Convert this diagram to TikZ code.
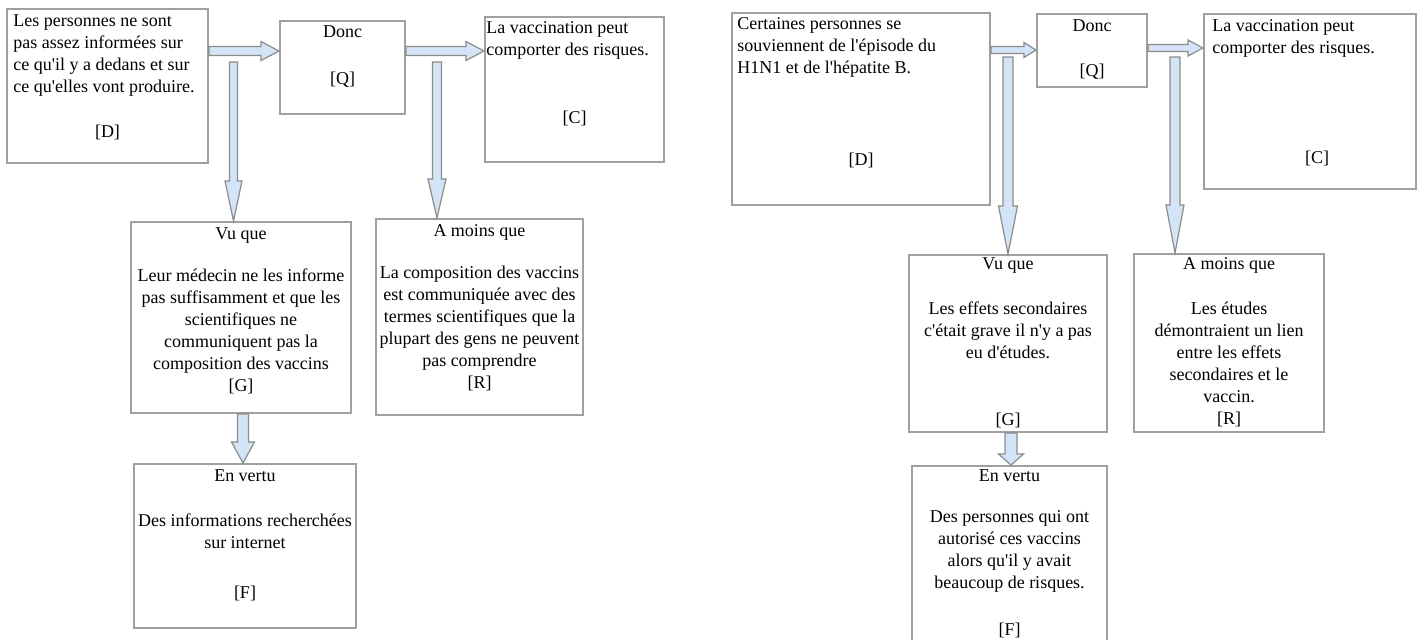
\documentclass[tikz,border=0pt]{standalone}
\usepackage{fontspec}
\setmainfont{Liberation Serif}
\usetikzlibrary{positioning, fit, calc}

\definecolor{boxline}{RGB}{160,160,160}
\definecolor{arrowfill}{RGB}{210,228,245}
\definecolor{arrowline}{RGB}{140,140,140}

\newcommand{\apos}{\textquotesingle}
% block arrows: start, end, shaft half width, head half width, head length
\newcommand{\harr}[5]{%
	\draw[blockarrow] ($#1+(0,#3)$) -- ($#2+(-#5,#3)$) -- ($#2+(-#5,#4)$) -- #2 -- ($#2+(-#5,-#4)$) -- ($#2+(-#5,-#3)$) -- ($#1+(0,-#3)$) -- cycle;}
\newcommand{\varr}[5]{%
	\draw[blockarrow] ($#1+(-#3,0)$) -- ($#2+(-#3,-#5)$) -- ($#2+(-#4,-#5)$) -- #2 -- ($#2+(#4,-#5)$) -- ($#2+(#3,-#5)$) -- ($#1+(#3,0)$) -- cycle;}

\begin{document}
\begin{tikzpicture}[x=0.5pt, y=-0.5pt,
		box/.style={draw=boxline, line width=1pt, inner sep=0pt},
		txt/.style={inner sep=0pt, font=\fontsize{9}{11}\selectfont},
		blockarrow/.style={draw=arrowline, fill=arrowfill, line width=0.6pt, line join=miter}]
	\useasboundingbox (0,0) rectangle (1419,639);
	\clip (0,0) rectangle (1419,639);

	% first diagram
	\node[box, fit={(7,9) (208,163)}] (dL) {};
	\node[box, fit={(280,21) (405,114)}] (qL) {};
	\node[box, fit={(485,17) (664,162)}] (cL) {};
	\node[box, fit={(131,222) (351,413)}] (gL) {};
	\node[box, fit={(376,219) (583,415)}] (rL) {};
	\node[box, fit={(134,464) (356,628)}] (fL) {};

	\node[txt, align=left, below right=3pt and 3.5pt of dL.north west] (dLtxt) {Les personnes ne sont\\pas assez informées sur\\ce qu\apos il y a dedans et sur\\ce qu\apos elles vont produire.};
	\node[txt, anchor=base] (dLtag) at (dL.north |- 0,137) {[D]};
	\node[txt, align=center, below=2.5pt of qL.north] (qLtxt) {Donc\\[12.5pt]{[Q]}};
	\node[txt, align=left, below right=2.5pt and 1pt of cL.north west] (cLtxt) {La vaccination peut\\comporter des risques.};
	\node[txt, anchor=base] (cLtag) at (cL.north |- 0,123) {[C]};
	\node[txt, align=center, below=3pt of gL.north] (gLtxt) {Vu que\\[10pt]Leur médecin ne les informe\\pas suffisamment et que les\\scientifiques ne\\communiquent pas la\\composition des vaccins\\{[G]}};
	\node[txt, align=center, below=3pt of rL.north] (rLtxt) {A moins que\\[10pt]La composition des vaccins\\est communiquée avec des\\termes scientifiques que la\\plupart des gens ne peuvent\\pas comprendre\\{[R]}};
	\node[txt, align=center, below=3pt of fL.north] (fLtxt) {En vertu\\[11.5pt]Des informations recherchées\\sur internet\\[14pt]{[F]}};

	\coordinate (brL1) at (233.5,62);
	\coordinate (brL2) at (437,62);
	\harr{(dL.east|-0,51)}{(qL.west|-0,51)}{4.5}{9.5}{18}
	\harr{(qL.east|-0,51)}{(cL.west|-0,51)}{4.5}{9.5}{18}
	\varr{(brL1)}{(brL1|-gL.north)}{4}{8.5}{40}
	\varr{(brL2)}{(brL2|-rL.north)}{4.5}{9}{39}
	\varr{(gL.south-|243,0)}{(fL.north-|243,0)}{5.5}{11.5}{21}

	% second diagram
	\node[box, fit={(732,13) (990,205)}] (dR) {};
	\node[box, fit={(1037,14) (1147,87)}] (qR) {};
	\node[box, fit={(1204,14) (1416,189)}] (cR) {};
	\node[box, fit={(909,255) (1107,432)}] (gR) {};
	\node[box, fit={(1134,254) (1324,432)}] (rR) {};
	\node[box, fit={(912,466) (1107,650)}] (fR) {};

	\node[txt, align=left, below right=2.5pt and 3pt of dR.north west] (dRtxt) {Certaines personnes se\\souviennent de l\apos épisode du\\H1N1 et de l\apos hépatite B.};
	\node[txt, anchor=base] (dRtag) at (dR.north |- 0,165) {[D]};
	\node[txt, align=center, below=3pt of qR.north] (qRtxt) {Donc\\[11.5pt]{[Q]}};
	\node[txt, align=left, below right=3pt and 4.5pt of cR.north west] (cRtxt) {La vaccination peut\\comporter des risques.};
	\node[txt, anchor=base] (cRtag) at (1317,163) {[C]};
	\node[txt, align=center, below=1.5pt of gR.north] (gRtxt) {Vu que\\[11.5pt]Les effets secondaires\\c\apos était grave il n\apos y a pas\\eu d\apos études.};
	\node[txt, anchor=base] (gRtag) at (gR.north |- 0,425) {[G]};
	\node[txt, align=center, below=2pt of rR.north] (rRtxt) {A moins que\\[11.5pt]Les études\\démontraient un lien\\entre les effets\\secondaires et le\\vaccin.\\{[R]}};
	\node[txt, align=center, below=2pt of fR.north] (fRtxt) {En vertu\\[9.5pt]Des personnes qui ont\\autorisé ces vaccins\\alors qu\apos il y avait\\beaucoup de risques.\\[12.5pt]{[F]}};

	\coordinate (brR1) at (1008,57);
	\coordinate (brR2) at (1175,57);
	\harr{(dR.east|-0,50)}{(qR.west|-0,50)}{3.5}{7.5}{12}
	\harr{(qR.east|-0,48)}{(cR.west|-0,48)}{3.5}{8}{15}
	\varr{(brR1)}{(brR1|-gR.north)}{5}{9.5}{48}
	\varr{(brR2)}{(brR2|-rR.north)}{5}{9}{48}
	\varr{(gR.south-|1011,0)}{(fR.north-|1011,0)}{6}{12.5}{11}
\end{tikzpicture}
\end{document}
